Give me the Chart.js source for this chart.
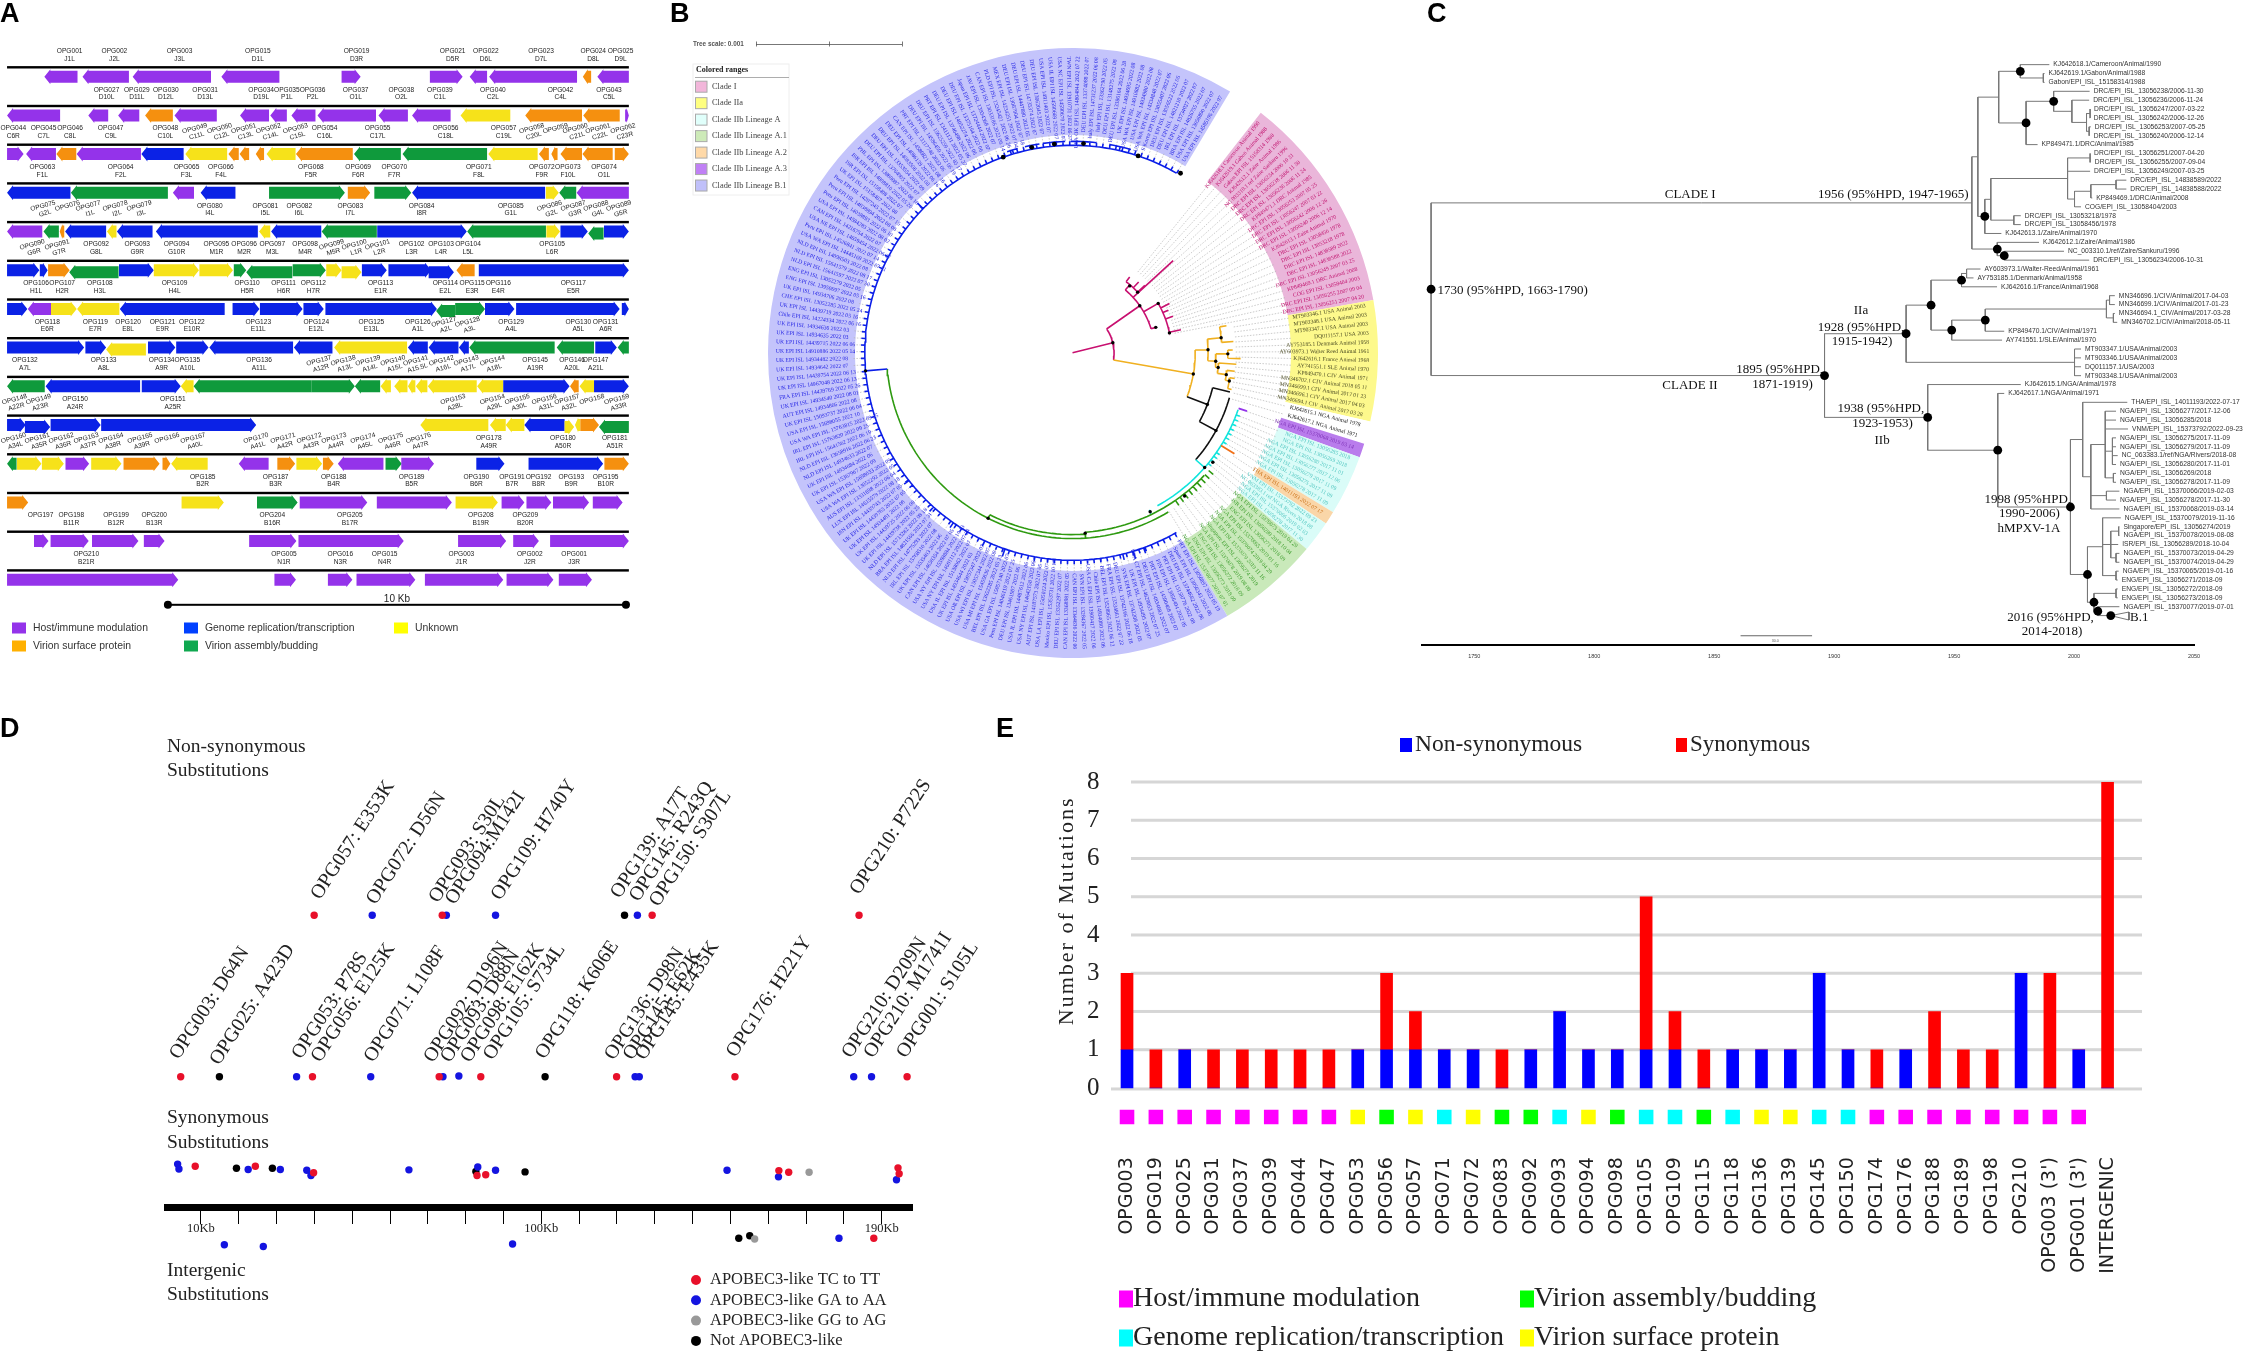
<!DOCTYPE html>
<html>
<head>
<meta charset="utf-8">
<style>
  html, body { margin: 0; background: #fff; overflow: hidden; }
  #page { position: relative; width: 2244px; height: 1354px; }
  canvas { position: absolute; }
</style>
<script src="https://cdn.jsdelivr.net/npm/chart.js@4"></script>
</head>
<body>
<div id="page"></div>
<script>
// ---- Panel A: gene map. Position along a row, 110.5 units = 1 Kb. Gene = [start, end, direction, function, sits lower?]
const geneRows = [
  [[107,187,'L','P'],[199,311,'L','P'],[320,509,'L','P'],[534,674,'L','P'],[824,870,'R','P'],[1037,1116,'R','P'],[1133,1175,'L','P'],[1180,1392,'L','P'],[1406,1426,'L','O'],[1441,1517,'L','P']],
  [[17,145,'L','P'],[213,261,'L','P'],[285,336,'L','P'],[350,417,'L','O'],[421,523,'L','P'],[579,649,'L','P'],[652,692,'L','P'],[703,761,'L','P'],[766,907,'L','P'],[913,984,'L','P'],[994,1087,'L','P'],[1111,1231,'L','Y'],[1267,1404,'L','O'],[1407,1495,'L','O'],[1508,1517,'R','P']],
  [[17,57,'R','P'],[63,135,'L','P'],[136,184,'L','O'],[185,340,'L','P'],[341,443,'L','B'],[447,548,'L','Y'],[551,576,'L','O'],[578,601,'L','O'],[617,637,'L','O'],[643,713,'L','Y'],[714,851,'L','O'],[854,967,'L','G'],[971,1175,'L','G'],[1178,1297,'L','Y'],[1300,1324,'L','O'],[1330,1345,'L','O'],[1352,1404,'L','O'],[1405,1478,'L','O'],[1483,1517,'R','O']],
  [[17,170,'L','B'],[171,405,'L','G'],[417,468,'L','P'],[484,568,'L','B'],[649,832,'R','G'],[839,893,'R','O'],[903,992,'R','G'],[994,1315,'L','B'],[1317,1348,'R','Y'],[1349,1390,'L','G'],[1391,1517,'L','P']],
  [[17,102,'L','P'],[105,142,'L','G'],[144,155,'L','O'],[157,256,'L','B'],[258,281,'L','Y'],[282,368,'L','B'],[376,622,'L','B'],[625,652,'L','Y'],[654,775,'L','B'],[776,909,'L','G'],[910,1126,'R','B'],[1127,1317,'L','G'],[1318,1351,'R','Y'],[1352,1418,'R','B'],[1419,1456,'L','G',1],[1457,1517,'R','B']],
  [[17,95,'R','B'],[96,115,'R','B'],[116,168,'R','O'],[167,286,'L','G',1],[287,371,'R','B'],[371,480,'R','Y'],[481,562,'R','Y'],[564,594,'R','G'],[594,705,'L','G',1],[706,786,'R','G'],[787,824,'R','Y'],[824,872,'R','Y',1],[873,933,'R','B'],[937,1040,'R','B'],[1034,1095,'R','B',1],[1101,1145,'L','O'],[1155,1517,'R','B']],
  [[17,66,'R','B'],[67,123,'L','P'],[123,185,'R','Y'],[186,288,'L','Y'],[289,542,'L','B'],[561,626,'R','B'],[627,730,'R','B'],[732,781,'R','B'],[785,1054,'R','B'],[1052,1098,'L','G',1],[1098,1170,'R','G'],[1170,1241,'R','B'],[1245,1495,'R','B'],[1500,1517,'R','B']],
  [[17,203,'R','B'],[206,256,'R','B'],[256,352,'L','Y',1],[357,423,'R','B'],[425,503,'R','B'],[505,707,'L','B'],[709,802,'L','B'],[806,982,'L','Y'],[984,1032,'L','B'],[1034,1106,'L','B'],[1107,1131,'L','B'],[1132,1338,'L','G'],[1343,1433,'L','G'],[1436,1488,'R','B'],[1490,1517,'L','G']],
  [[17,108,'L','G'],[110,338,'L','B'],[342,436,'R','B'],[436,467,'L','Y'],[467,752,'L','G'],[752,856,'R','G'],[856,917,'L','G'],[918,943,'L','Y'],[951,983,'L','Y'],[984,1002,'L','Y'],[1003,1031,'L','Y'],[1032,1150,'L','Y'],[1151,1214,'L','Y'],[1214,1374,'R','B'],[1375,1396,'L','O'],[1398,1433,'L','Y'],[1433,1517,'R','B']],
  [[17,62,'R','B'],[60,121,'R','B',1],[122,243,'R','B'],[244,618,'R','B'],[1014,1178,'L','Y'],[1182,1220,'L','Y'],[1220,1265,'L','Y'],[1265,1362,'L','B'],[1362,1385,'R','Y',1],[1387,1400,'L','Y'],[1400,1445,'R','O'],[1445,1517,'L','G',1]],
  [[17,40,'L','G'],[41,100,'R','Y'],[101,154,'R','Y'],[158,215,'R','P'],[220,293,'R','Y'],[298,385,'R','O'],[392,411,'R','O'],[413,501,'L','Y'],[576,648,'L','P'],[669,712,'R','O'],[715,777,'R','Y'],[779,805,'R','O'],[815,925,'L','P'],[930,969,'R','G'],[968,1047,'R','P'],[1149,1217,'R','B'],[1275,1455,'R','B'],[1458,1517,'R','O']],
  [[17,68,'R','O'],[438,540,'R','Y'],[620,718,'R','G'],[723,886,'R','P'],[909,1090,'R','P'],[1099,1201,'R','Y'],[1210,1265,'R','P'],[1270,1330,'R','P'],[1334,1421,'R','P'],[1430,1502,'R','P']],
  [[82,117,'R','P'],[122,214,'R','P'],[222,334,'R','P'],[347,397,'R','P'],[601,715,'R','P'],[720,974,'R','P'],[1105,1221,'R','P'],[1238,1300,'R','P'],[1327,1517,'R','P']],
  [[17,430,'R','P'],[662,714,'R','P'],[791,850,'R','P'],[860,1002,'R','P'],[1025,1214,'R','P'],[1222,1335,'R','P'],[1348,1428,'R','P']]
];
// gene label = [position, OPG name, VACV name, tilted?]
const geneLabelRows = [
  [[168,'OPG001','J1L'],[276,'OPG002','J2L'],[433,'OPG003','J3L'],[622,'OPG015','D1L'],[860,'OPG019','D3R'],[1092,'OPG021','D5R'],[1172,'OPG022','D6L'],[1305,'OPG023','D7L'],[1431,'OPG024','D8L'],[1497,'OPG025','D9L']],
  [[257,'OPG027','D10L'],[330,'OPG029','D11L'],[400,'OPG030','D12L'],[495,'OPG031','D13L'],[630,'OPG034','D19L'],[692,'OPG035','P1L'],[754,'OPG036','P2L'],[858,'OPG037','O1L'],[968,'OPG038','O2L'],[1061,'OPG039','C1L'],[1189,'OPG040','C2L'],[1352,'OPG042','C4L'],[1469,'OPG043','C5L']],
  [[32,'OPG044','C6R'],[105,'OPG045','C7L'],[169,'OPG046','C8L'],[267,'OPG047','C9L'],[399,'OPG048','C10L'],[472,'OPG049','C11L',1],[532,'OPG050','C12L',1],[590,'OPG051','C13L',1],[650,'OPG052','C14L',1],[715,'OPG053','C15L',1],[783,'OPG054','C16L'],[911,'OPG055','C17L'],[1075,'OPG056','C18L'],[1215,'OPG057','C19L'],[1285,'OPG058','C20L',1],[1342,'OPG059','',1],[1390,'OPG060','C21L',1],[1445,'OPG061','C22L',1],[1505,'OPG062','C23R',1]],
  [[102,'OPG063','F1L'],[291,'OPG064','F2L'],[450,'OPG065','F3L'],[533,'OPG066','F4L'],[750,'OPG068','F5R'],[864,'OPG069','F6R'],[951,'OPG070','F7R'],[1155,'OPG071','F8L'],[1307,'OPG072','F9R'],[1370,'OPG073','F10L'],[1457,'OPG074','O1L']],
  [[106,'OPG075','G2L',1],[165,'OPG076','',1],[215,'OPG077','I1L',1],[280,'OPG078','I2L',1],[338,'OPG079','I3L',1],[506,'OPG080','I4L'],[640,'OPG081','I5L'],[722,'OPG082','I6L'],[845,'OPG083','I7L'],[1017,'OPG084','I8R'],[1232,'OPG085','G1L'],[1328,'OPG086','G2L',1],[1385,'OPG087','G3R',1],[1440,'OPG088','G4L',1],[1495,'OPG089','G5R',1]],
  [[80,'OPG090','G6R',1],[140,'OPG091','G7R',1],[232,'OPG092','G8L'],[331,'OPG093','G9R'],[426,'OPG094','G10R'],[522,'OPG095','M1R'],[589,'OPG096','M2R'],[657,'OPG097','M3L'],[736,'OPG098','M4R'],[802,'OPG099','M5R',1],[857,'OPG100','L1R',1],[913,'OPG101','L2R',1],[993,'OPG102','L3R'],[1064,'OPG103','L4R'],[1129,'OPG104','L5L'],[1332,'OPG105','L6R']],
  [[87,'OPG106','H1L'],[150,'OPG107','H2R'],[241,'OPG108','H3L'],[421,'OPG109','H4L'],[596,'OPG110','H5R'],[684,'OPG111','H6R'],[756,'OPG112','H7R'],[918,'OPG113','E1R'],[1074,'OPG114','E2L'],[1139,'OPG115','E3R'],[1202,'OPG116','E4R'],[1383,'OPG117','E5R']],
  [[114,'OPG118','E6R'],[230,'OPG119','E7R'],[309,'OPG120','E8L'],[392,'OPG121','E9R'],[463,'OPG122','E10R'],[623,'OPG123','E11L'],[763,'OPG124','E12L'],[896,'OPG125','E13L'],[1008,'OPG126','A1L'],[1073,'OPG127','A2L',1],[1130,'OPG128','A3L',1],[1233,'OPG129','A4L'],[1395,'OPG130','A5L'],[1461,'OPG131','A6R']],
  [[60,'OPG132','A7L'],[250,'OPG133','A8L'],[390,'OPG134','A9R'],[452,'OPG135','A10L'],[625,'OPG136','A11L'],[772,'OPG137','A12R',1],[830,'OPG138','A13L',1],[890,'OPG139','A14L',1],[950,'OPG140','A15L',1],[1005,'OPG141','A15.5L',1],[1067,'OPG142','A16L',1],[1127,'OPG143','A17L',1],[1190,'OPG144','A18L',1],[1291,'OPG145','A19R'],[1380,'OPG146','A20L'],[1437,'OPG147','A21L']],
  [[37,'OPG148','A22R',1],[95,'OPG149','A23R',1],[181,'OPG150','A24R'],[417,'OPG151','A25R'],[1095,'OPG153','A28L',1],[1190,'OPG154','A29L',1],[1250,'OPG155','A30L',1],[1315,'OPG156','A31L',1],[1370,'OPG157','A32L',1],[1430,'OPG158','',1],[1490,'OPG159','A33R',1]],
  [[35,'OPG160','A34L',1],[92,'OPG161','A35R',1],[150,'OPG162','A36R',1],[210,'OPG163','A37R',1],[270,'OPG164','A38R',1],[340,'OPG165','A39R',1],[405,'OPG166','',1],[468,'OPG167','A40L',1],[620,'OPG170','A41L',1],[685,'OPG171','A42R',1],[748,'OPG172','A43R',1],[808,'OPG173','A44R',1],[878,'OPG174','A45L',1],[945,'OPG175','A46R',1],[1012,'OPG176','A47R',1],[1179,'OPG178','A49R'],[1358,'OPG180','A50R'],[1483,'OPG181','A51R']],
  [[489,'OPG185','B2R'],[665,'OPG187','B3R'],[805,'OPG188','B4R'],[993,'OPG189','B5R'],[1149,'OPG190','B6R'],[1235,'OPG191','B7R'],[1299,'OPG192','B8R'],[1378,'OPG193','B9R'],[1461,'OPG195','B10R']],
  [[98,'OPG197',''],[172,'OPG198','B11R'],[280,'OPG199','B12R'],[372,'OPG200','B13R'],[657,'OPG204','B16R'],[844,'OPG205','B17R'],[1160,'OPG208','B19R'],[1267,'OPG209','B20R']],
  [[208,'OPG210','B21R'],[685,'OPG005','N1R'],[821,'OPG016','N3R'],[928,'OPG015','N4R'],[1113,'OPG003','J1R'],[1278,'OPG002','J2R'],[1385,'OPG001','J3R']]
];
const rowSpan = [17, 1517];
const scaleBarSpan = [405, 1510];
const geneLegend = [['Host/immune modulation','P'],['Genome replication/transcription','B'],['Unknown','Y'],['Virion surface protein','O'],['Virion assembly/budding','G']];

// ---- Panel B: circular tree. Ring sectors in degrees, clockwise, starting at 31 degrees from the top
const sectorNames = ['gap','Clade I','Clade IIa','gap2','Clade IIb Lineage A.3','Clade IIb Lineage A','Clade IIb Lineage A.2','Clade IIb Lineage A (2)','Clade IIb Lineage A.1','Clade IIb Lineage B.1'];
const sectorSpans = [7, 42, 23, 4.3, 2.7, 11.5, 2.5, 6, 19.6, 241.4];
const cladeILabels = ['KJ642618.1 Cameroon Animal 1990','KJ642619.1 Gabon Animal 1988','Gabon EPI ISL 15158314 1988','KJ642612.1 Zaire Animal 1986','NC 003310.1 ref Zaire Sankuru 1996','DRC EPI ISL 13056234 2006 10 31','DRC EPI ISL 13056238 2006 11 30','DRC EPI ISL 13056236 2006 11 24','KP849471.1 DRC Animal 1985','DRC EPI ISL 13056253 2007 05 25','DRC EPI ISL 13056247 2007 03 22','DRC EPI ISL 13056242 2006 12 26','DRC EPI ISL 13056240 2006 12 14','KJ642613.1 Zaire Animal 1970','DRC EPI ISL 13058456 1978','DRC EPI ISL 13053218 1978','DRC EPI ISL 14838589 2022','DRC EPI ISL 14838588 2022','DRC EPI ISL 13056249 2007 03 25','KP849469.1 DRC Animal 2008','COG EPI ISL 13058404 2003','DRC EPI ISL 13056255 2007 09 04','DRC EPI ISL 13056251 2007 04 20'];
const cladeIIaLabels = ['MT903346.1 USA Animal 2003','MT903348.1 USA Animal 2003','MT903347.1 USA Animal 2003','DQ011157.1 USA 2003','AY753185.1 Denmark Animal 1958','AY603973.1 Walter Reed Animal 1961','KJ642616.1 France Animal 1968','AY741551.1 SLE Animal 1970','KP849470.1 CIV Animal 1971','MN346702.1 CIV Animal 2018 05 11','MN346699.1 CIV Animal 2017 01 23','MN346696.1 CIV Animal 2017 04 03','MN346694.1 CIV Animal 2017 03 28'];
const nigeriaLabels = ['KJ642615.1 NGA Animal 1978','KJ642617.1 NGA Animal 1971'];
const lineageA3Labels = ['NGA EPI ISL 15370068 2019 03 14'];
const lineageALabels = ['NGA EPI ISL 13056285 2018','NGA EPI ISL 13056269 2018','NGA EPI ISL 13056280 2017 11 01','NGA EPI ISL 13056277 2017 12 06','NGA EPI ISL 13056279 2017 11 09','NGA EPI ISL 13056275 2017 11 09','NGA EPI ISL 13056278 2017 11 09'];
const lineageA2Labels = ['THA EPI ISL 14011193 2022 07 17'];
const lineageA2ndLabels = ['VNM EPI ISL 15373792 2022 09 23','NC 063383.1 ref NGA Rivers 2018 08','NGA EPI ISL 15370066 2019 02 03','NGA EPI ISL 13056278 2017 11 30'];
const lineageA1Labels = ['NGA EPI ISL 15370073 2019 04 29','ISR EPI ISL 13056289 2018 10 04','ENG EPI ISL 13056271 2018 09','NGA EPI ISL 15370065 2019 01 16','NGA EPI ISL 15370074 2019 04 29','NGA EPI ISL 15370079 2019 11 16','Singapore EPI ISL 13056274 2019','NGA EPI ISL 15370078 2019 08 08','ENG EPI ISL 13056272 2018 09','ENG EPI ISL 13056273 2018 09','NGA EPI ISL 15370077 2019 07 01'];
const lineageB1Labels = ['PRT EPI ISL 13056897 2022 05 19','Spain EPI ISL 13056343 2022 06','DEU EPI ISL 13744662 2022 06','PRT EPI ISL 15158776 2022 08','FIN EPI ISL 13056404 2022 05','PRT EPI ISL 14590468 2022 07','DEU EPI ISL 14834683 2022 07','USA CT EPI ISL 14629053 2022 07 25','UK EPI ISL 14934495 2022 07','SVK EPI ISL 13742208 2022 05','DEU EPI ISL 13742166 2022 06 18','FRA EPI ISL 13534861 2022 07 22','BEL EPI ISL 13528965 2022 06 12','Chile EPI ISL 14934080 2022 06','USA CA EPI ISL 13900417 2022 06','SVN EPI ISL 13284367 2022 05','CAN EPI ISL 13344636 2022 06','CAN EPI ISL 13368981 2022 05','DEU EPI ISL 13352297 2022 07','Mexico EPI ISL 15353731 2022 10 13','USA LA EPI ISL 15050124 2022 07','AUT EPI ISL 14187573 2022 07 05','USA NY EPI ISL 14642158 2022 06','USA IL EPI ISL 14487612 2022 06','DEU EPI ISL 13461907 2022 06','Peru EPI ISL 14046119 2022 07 25','USA GA EPI ISL 15057140 2022 07','BEL EPI ISL 13652285 2022 05 23','USA MI EPI ISL 15455836 2022 09','USA WI EPI ISL 15057344 2022 07','USA OR EPI ISL 15057347 2022 07','UK EPI ISL 14934644 2022 03','USA IL EPI ISL 15138062 2022 07','USA NY EPI ISL 14601112 2022 07 24','USA NY EPI ISL 15598884 2022 10 13','CAN EPI ISL 14650354 2022 07 05','UK EPI ISL 15535403 2022 06','IRL EPI ISL 15768510 2022 08','NLD EPI ISL 14775293 2022 07','BRA EPI ISL 14821566 2022 07 31','NLD EPI ISL 15713282 2022 08 18','UK EPI ISL 14439738 2022 05 25','UK EPI ISL 14439725 2022 06 08','UK EPI ISL 14934481 2022 08','UK EPI ISL 14439763 2022 07 05','ISN EPI ISL 14439743 2022 07 05','LUX EPI ISL 14615579 2022 08 18','AUS EPI ISL 13331698 2022 06 04','USA WA EPI ISL 13052292 2022 05','USA WA EPI ISL 15698033 2022 09','UK EPI ISL 15367967 2022 09','UK EPI ISL 14934684 2022 06','NLD EPI ISL 14934633 2022 07','NLD EPI ISL 13658916 2022 06 23','IRL EPI ISL 15641562 2022 06 19','IRL EPI ISL 15763820 2022 09 25','USA WA EPI ISL 15763815 2022 09 25','USA EPI ISL 15698055 2022 10','UK EPI ISL 15093737 2022 06 04','AUT EPI ISL 14934866 2022 08','UK EPI ISL 14934540 2022 08 01','FRA EPI ISL 14439769 2022 05 26','UK EPI ISL 14967048 2022 06 13','UK EPI ISL 14439754 2022 06 13','UK EPI ISL 14934642 2022 07','UK EPI ISL 14934482 2022 08','UK EPI ISL 14910886 2022 05 14','UK EPI ISL 14439715 2022 06 06','UK EPI ISL 14934635 2022 03','UK EPI ISL 14934636 2022 03','Chile EPI ISL 14224334 2022 06 16','UK EPI ISL 14439719 2022 05 16','CHE EPI ISL 13052285 2022 05 24','UK EPI ISL 14934706 2022 08','ENG EPI ISL 13950697 2022 05 16','ENG EPI ISL 13052279 2022 05','NLD EPI ISL 15641597 2022 07 30','NLD EPI ISL 15641579 2022 08 17','NLD EPI ISL 14098503 2022 08','USA WA EPI ISL 14445169 2022 07 31','Peru EPI ISL 14526841 2022 07 14','USA NE EPI ISL 14659454 2022 06 27','CAN EPI ISL 14216754 2022 07','USA EPI ISL 14584283 2022 08 02','Peru EPI ISL 14038893 2022 06 10','Peru EPI ISL 14038894 2022 08 08','Peru EPI ISL 14207245 2022 07 15','UK EPI ISL 15158467 2022 08','ISR EPI ISL 15158408 2022 07','ISR EPI ISL 14898810 2022 05 20','PHL EPI ISL 13869087 2022 08 16','DEU EPI ISL 13764905 2022 07','DEU EPI ISL 13353554 2022 09','DEU EPI ISL 14083506 2022 08','DEU EPI ISL 14086139 2022 06 16','CAN EPI ISL 14586821 2022 08 16','PRT EPI ISL 13117748 2022 06','DEU EPI ISL 14586450 2022 06 19','DEU EPI ISL 15625259 2022 05 17','PRT EPI ISL 13411131 2022 05 27','DEU EPI ISL 13746498 2022 06','DEU EPI ISL 14052274 2022 06','DEU EPI ISL 13375164 2022 06','Japan EPI ISL 13724444 2022 07','JAV EPI ISL 13934368 2022 07','CAN EPI ISL 13033186 2022 06 14','PLD EPI ISL 13245421 2022 06 26','MEX EPI ISL 14234251 2022 07 04','DEU EPI ISL 13007904 2022 07 18','DEU EPI ISL 14447880 2022 05','DEU EPI ISL 14735374 2022 07','DEU EPI ISL 13062045 2022 07','USA EPI ISL 14911403 2022 07','USA IL EPI ISL 14590669 2022 07','USA NC EPI ISL 14590670 2022 07','TWN EPI ISL 13910731 2022 06 27','USA OK EPI ISL 14804844 2022 07 22','DEU EPI ISL 13374088 2022 07','Italy EPI ISL 14731237 2022 06 08','Italy EPI ISL 13362790 2022 05','DEU EPI ISL 13148275 2022 08','DEU EPI ISL 13386164 2022 06 28','UK EPI ISL 14934695 2022 08','USA WA EPI ISL 14910882 2022 08','USA EPI ISL 14934980 2022 08','USA WA EPI ISL 14334848 2022 07','S Korea EPI ISL 13055407 2022 06','DEU EPI ISL 13056522 2022 06','DEU EPI ISL 14821210 2022 07','IRL EPI ISL 13734027 2022 07','BRA EPI ISL 14826755 2022 07','USA EPI ISL 13056890 2022 07','USA EPI ISL 14585106 2022 07'];
// tree pieces: arcs = [radius, fromDeg, toDeg], radials = [deg, fromRadius, toRadius]
const magentaArcs = [[42,55,100],[83,40,73],[90,37,47],[100,60,78]];
const magentaRadials = [[76,0,42],[55,42,83],[47.5,83,138],[40,83,90],[60,83,100],[73,83,88],[37,90,96],[43,90,98],[47,90,100],[63,100,110],[70,100,108],[78,100,112],[66,100,106]];
const orangeArcs = [[124,88.7,111],[137,84.2,93.4],[151,80,86],[145,90.4,95.8],[157,89,92],[148,94,98.1],[157,96.5,100.2],[161,99,103]];
const orangeRadials = [[100,42,124],[88.7,124,137],[84.2,137,151],[80,151,158],[86,151,163],[93.4,137,145],[90.4,145,157],[89,157,162],[92,157,170],[95.8,145,148],[94,148,166],[98.1,148,157],[96.5,157,165],[100.2,157,161],[99,161,166],[103,161,165]];
const blackArcs = [[146,104,118.5],[165,106,131]];
const blackRadials = [[111,124,146],[104,146,164],[118.5,146,165]];
const cyanArcs = [[177,109,151]];
const cyanRadials = [[131,165,177],[154,177,181]];
const greenArcs = [[182,133,176],[188,149,265],[184,176,207]];
const greenRadials = [[207,184,188],[176,182,188]];
const blueArcs = [[210,150,390],[214,342,345],[214,347,351],[214,352,358],[214,359.5,366.5],[214,370,376]];
const blueRadials = [[265,188,210],[343.5,210,214],[349,210,214],[355,210,214],[3,210,214],[13,210,214],[314,210,218],[199,210,218],[205,210,216],[215,210,216],[222,210,216],[232,210,216],[163,210,218],[166,210,216],[160,210,216]];
const purpleRadials = [[108.5,177,186]];
const orangeTipRadials = [[122,177,193]];
const treeNodes = [[76,42],[55,83],[40.5,89],[60,100],[47,90],[73,88],[78.4,100],[100,124],[88.7,137],[84.2,151],[93.4,145],[90.4,157],[95.8,148],[98.1,157],[100.2,161],[111,146],[118.5,165],[131,177],[128,180],[154,179],[142,184],[176,183],[207,188],[265,210]];
const bigTreeNodes = [[340.5,210],[348.8,212],[355,212],[3,212],[18.4,210],[31,212]];
const rangeLegend = ['Clade I','Clade IIa','Clade IIb Lineage A','Clade IIb Lineage A.1','Clade IIb Lineage A.2','Clade IIb Lineage A.3','Clade IIb Lineage B.1'];

// ---- Panel C: dated tree. Tips in drawing order, x is the year
const tipLabels = ['KJ642618.1/Cameroon/Animal/1990','KJ642619.1/Gabon/Animal/1988','Gabon/EPI_ISL_15158314/1988','DRC/EPI_ISL_13056238/2006-11-30','DRC/EPI_ISL_13056236/2006-11-24','DRC/EPI_ISL_13056247/2007-03-22','DRC/EPI_ISL_13056242/2006-12-26','DRC/EPI_ISL_13056253/2007-05-25','DRC/EPI_ISL_13056240/2006-12-14','KP849471.1/DRC/Animal/1985','DRC/EPI_ISL_13056251/2007-04-20','DRC/EPI_ISL_13056255/2007-09-04','DRC/EPI_ISL_13056249/2007-03-25','DRC/EPI_ISL_14838589/2022','DRC/EPI_ISL_14838588/2022','KP849469.1/DRC/Animal/2008','COG/EPI_ISL_13058404/2003','DRC/EPI_ISL_13053218/1978','DRC/EPI_ISL_13058456/1978','KJ642613.1/Zaire/Animal/1970','KJ642612.1/Zaire/Animal/1986','NC_003310.1/ref/Zaire/Sankuru/1996','DRC/EPI_ISL_13056234/2006-10-31','AY603973.1/Walter-Reed/Animal/1961','AY753185.1/Denmark/Animal/1958','KJ642616.1/France/Animal/1968','MN346696.1/CIV/Animal/2017-04-03','MN346699.1/CIV/Animal/2017-01-23','MN346694.1_CIV/Animal/2017-03-28','MN346702.1/CIV/Animal/2018-05-11','KP849470.1/CIV/Animal/1971','AY741551.1/SLE/Animal/1970','MT903347.1/USA/Animal/2003','MT903346.1/USA/Animal/2003','DQ011157.1/USA/2003','MT903348.1/USA/Animal/2003','KJ642615.1/NGA/Animal/1978','KJ642617.1/NGA/Animal/1971','THA/EPI_ISL_14011193/2022-07-17','NGA/EPI_ISL_13056277/2017-12-06','NGA/EPI_ISL_13056285/2018','VNM/EPI_ISL_15373792/2022-09-23','NGA/EPI_ISL_13056275/2017-11-09','NGA/EPI_ISL_13056279/2017-11-09','NC_063383.1/ref/NGA/Rivers/2018-08','NGA/EPI_ISL_13056280/2017-11-01','NGA/EPI_ISL_13056269/2018','NGA/EPI_ISL_13056278/2017-11-09','NGA/EPI_ISL_15370066/2019-02-03','NGA/EPI_ISL_13056278/2017-11-30','NGA/EPI_ISL_15370068/2019-03-14','NGA/EPI_ISL_15370079/2019-11-16','Singapore/EPI_ISL_13056274/2019','NGA/EPI_ISL_15370078/2019-08-08','ISR/EPI_ISL_13056289/2018-10-04','NGA/EPI_ISL_15370073/2019-04-29','NGA/EPI_ISL_15370074/2019-04-29','NGA/EPI_ISL_15370065/2019-01-16','ENG/EPI_ISL_13056271/2018-09','ENG/EPI_ISL_13056272/2018-09','ENG/EPI_ISL_13056273/2018-09','NGA/EPI_ISL_15370077/2019-07-01'];
const tipYears = [1989.7,1987.7,1987.7,2006.5,2006.3,2006.7,2006.5,2007,2006.5,1984.8,2006.7,2007,2006.7,2021.8,2021.8,2007.6,2002.9,1977.8,1977.8,1969.7,1985.4,1995.8,2006.3,1961,1958.1,1967.9,2017,2017,2017,2018,1970.9,1970,2002.9,2002.9,2002.9,2002.9,1977.8,1970.9,2022.2,2017.5,2017.5,2022.5,2017.5,2017.5,2018.2,2017.5,2017.5,2017.5,2018.9,2017.5,2018.9,2019.5,2018.9,2018.9,2018.4,2018.9,2018.9,2018.6,2018.2,2018.2,2018.2,2018.9,2015.3];
const timeTicks = [1750,1800,1850,1900,1950,2000,2050];
// text on the tree = [text, year, row]
const treeNotes = [['CLADE I',1840,14.67],['1956 (95%HPD, 1947-1965)',1924.7,14.57],['1730 (95%HPD, 1663-1790)',1766,25.4],['IIa',1911.2,27.7],['1928 (95%HPD,',1911.2,29.6],['1915-1942)',1911.6,31.2],['1895 (95%HPD,',1877.3,34.3],['1871-1919)',1878.5,36],['CLADE II',1839.9,36.1],['1938 (95%HPD,',1919.5,38.75],['1923-1953)',1920.2,40.4],['IIb',1920,42.3],['1998 (95%HPD,',1980.7,48.9],['1990-2006)',1981.4,50.55],['hMPXV-1A',1981.2,52.2],['2016 (95%HPD,',1990.2,62.2],['2014-2018)',1990.8,63.8],['B.1',2027.2,62.2]];
// n = plain internal node, d = node with a black dot: (year, ...children). A child that is a number is a tip row.
const n = (year, ...kids) => ({ year, kids, dot: false });
const d = (year, ...kids) => ({ year, kids, dot: true });
const datedTree = d(1732,
  n(1957.4,
    n(1959.9,
      n(1968.6,
        d(1977.6, 0, n(1987.2, 1, 2)),
        d(1980, d(1991.5, 3, n(1999.1, 4, n(2005.2, n(2006.7, 5, 6), n(2006.3, 7, 8)))), 9)),
      d(1962.8,
        n(1965.3,
          n(1997.3, n(2006.7, 10, 11), 12, n(2000.2, n(2007, n(2017.5, 13, 14), 15), 16)),
          n(1974.9, 17, 18)),
        19)),
    d(1968, 20, d(1970.9, 21, 22))),
  d(1896,
    d(1930,
      d(1940.4,
        d(1953.1, n(1955.2, 23, 24), 25),
        d(1949, d(1963, n(2013.5, n(2014.8, 26, 27), n(2016.4, 28, 29)), 30), 31)),
      n(2000.2, 32, 33, 34, 35)),
    d(1939, 36,
      d(1968.2, 37,
        d(1998.5,
          n(2003.6, 38,
            n(2007,
              n(2013, 39, 40, 41, n(2016, 42, 43, 44, 45), n(2016.4, 46, 47)),
              n(2013.5, 48, 49),
              50)),
          d(2005.6,
            n(2011.9, 51, n(2015.3, n(2018.6, 52, 53), 54, n(2017.5, 55, 56)), n(2017.5, 57, 58)),
            d(2008.3, n(2017.5, 59, 60), d(2009.9, 61, 62))))))));

// ---- Panel D: substitutions along the genome, [Kb, lane height above the genome bar]
const tcToTt = [[39.95,2.957],[73.8,2.957],[129.3,2.957],[184,2.957],[4.66,1.322],[39.5,1.322],[73,1.322],[84,1.322],[119.9,1.322],[151.2,1.322],[196.7,1.322],[8.5,.417],[24.4,.417],[39.8,.351],[83,.322],[85.3,.33],[162.8,.372],[165.4,.355],[194.3,.4],[194.6,.34],[187.9,-.313]];
const gaToAa = [[55.3,2.957],[74.9,2.957],[87.9,2.957],[125.4,2.957],[35.3,1.322],[54.9,1.322],[74,1.322],[78.2,1.33],[124.8,1.322],[125.9,1.322],[182.6,1.322],[187.3,1.322],[3.85,.438],[4.2,.388],[22.5,.384],[31,.384],[38,.376],[39.1,.322],[65,.38],[83.2,.409],[87.9,.376],[149.1,.376],[162.7,.309],[193.9,.28],[16.2,-.379],[26.5,-.396],[92.4,-.371],[178.7,-.313]];
const ggToAg = [[170.8,.355],[156.4,-.321]];
const notApobec = [[122,2.957],[14.9,1.322],[101,1.322],[19.4,.396],[28.9,.396],[82.7,.363],[95.7,.359],[152.2,-.313],[155.1,-.288]];
// rotated label = [Kb, lane, text]
const upperLabels = [[40.3,3.136,'OPG057: E353K'],[55,3.086,'OPG072: D56N'],[71.5,3.102,'OPG093: S30L'],[75.9,3.086,'OPG094:M142I'],[88,3.127,'OPG109: H740Y'],[119.6,3.149,'OPG139: A17T'],[124.5,3.115,'OPG145: R243Q'],[129.8,3.065,'OPG150: S307L'],[182.8,3.186,'OPG210: P722S']];
const lowerLabels = [[3,1.518,'OPG003: D64N'],[13.6,1.46,'OPG025: A423D'],[35.3,1.522,'OPG053: P78S'],[40.4,1.489,'OPG056: E125K'],[54.4,1.489,'OPG071: L108F'],[70.2,1.485,'OPG092: D196N'],[74.6,1.485,'OPG093: D88N'],[79.9,1.485,'OPG098: E162K'],[85.9,1.51,'OPG105: S734L'],[99.7,1.522,'OPG118: K606E'],[118,1.51,'OPG136: D98N'],[122.9,1.51,'OPG145: E62K'],[126.1,1.51,'OPG145: E435K'],[150.2,1.539,'OPG176: H221Y'],[180.7,1.53,'OPG210: D209N'],[186.5,1.53,'OPG210: M1741I'],[195.2,1.53,'OPG001: S105L']];
const laneTitles = [['Non-synonymous',4.666],['Substitutions',4.42],['Synonymous',.906],['Substitutions',.656],['Intergenic',-.638],['Substitutions',-.888]];
const kbTicks = [10,20,30,40,50,60,70,80,90,100,110,120,130,140,150,160,170,180,190];
const labelledKb = [10, 100, 190];
const apobecLegend = ['APOBEC3-like TC to TT','APOBEC3-like GA to AA','APOBEC3-like GG to AG','Not APOBEC3-like'];

// ---- Panel E: mutations per gene
const mutationGenes = ['OPG003','OPG019','OPG025','OPG031','OPG037','OPG039','OPG044','OPG047','OPG053','OPG056','OPG057','OPG071','OPG072','OPG083','OPG092','OPG093','OPG094','OPG098','OPG105','OPG109','OPG115','OPG118','OPG136','OPG139','OPG145','OPG150','OPG174','OPG176','OPG188','OPG189','OPG198','OPG210',"OPG003 (3')","OPG001 (3')",'INTERGENIC'];
const nonSynonymous = [1,0,1,0,0,0,0,0,1,1,1,1,1,0,1,2,1,1,1,1,0,1,1,1,3,1,0,1,0,0,0,3,0,1,0];
const synonymous =    [2,1,0,1,1,1,1,1,0,2,1,0,0,1,0,0,0,0,4,1,1,0,0,0,0,0,1,0,2,1,1,0,3,0,8];
const geneFunctions = ['host','host','host','host','host','host','host','host','surface','assembly','surface','replication','surface','assembly','assembly','replication','surface','assembly','replication','replication','assembly','replication','surface','surface','replication','replication','host','host','host','host','host','host','host','host'];
const functionLegend = [['Host/immune modulation','host'],['Virion assembly/budding','assembly'],['Genome replication/transcription','replication'],['Virion surface protein','surface']];

// ---- styles
const geneColors = { P: '#9433ea', B: '#0b22e6', Y: '#f6e21a', O: '#f5900f', G: '#0f9a3c' };
const functionColors = { host: '#ff00ff', surface: '#ffff00', assembly: '#00ff00', replication: '#00ffff' };
const sectorColors = ['#ffffff','#eab6da','#fdf98c','#ffffff','#b97cec','#dafcf8','#fad6a8','#dafcf8','#c9e9ba','#c4c4fb'];
const rangeSwatches = ['#f2b6da','#ffff80','#e0fffb','#cdeab8','#ffd9a8','#c080f5','#c0c0fa'];
const SERIF = '"Liberation Serif"';
const SANS = '"Liberation Sans"';

Chart.defaults.animation = false;
Chart.defaults.responsive = false;
Chart.defaults.plugins.legend.display = false;
Chart.defaults.plugins.tooltip.enabled = false;

function newCanvas(left, top, width, height) {
  const c = document.createElement('canvas');
  c.width = width;
  c.height = height;
  c.style.left = left + 'px';
  c.style.top = top + 'px';
  document.getElementById('page').appendChild(c);
  return c;
}

function drawText(ctx, str, x, y, font, color, align, rot) {
  ctx.save();
  ctx.translate(x, y);
  if (rot) ctx.rotate(rot * Math.PI / 180);
  ctx.font = font;
  ctx.fillStyle = color;
  ctx.textAlign = align || 'left';
  ctx.textBaseline = 'middle';
  ctx.fillText(str, 0, 0);
  ctx.restore();
}

function panelLetter(ctx, letter, x, y) {
  drawText(ctx, letter, x, y, 'bold 27px ' + SANS, '#000');
}

// ---- Panel A
class GeneArrow extends Chart.BarElement {
  static id = 'geneArrow';
  draw(ctx) {
    const props = this.getProps(['x', 'y', 'base']);
    const left = Math.min(props.x, props.base), right = Math.max(props.x, props.base);
    const raw = this.$context.raw;
    const y = props.y + (raw.lower ? 2 : 0);
    const head = Math.min(6, (right - left) * 0.6);
    const body = 6, wing = 7.5;
    ctx.save();
    ctx.fillStyle = this.options.backgroundColor;
    ctx.beginPath();
    if (raw.dir === 'R') {
      ctx.moveTo(left, y - body);
      ctx.lineTo(right - head, y - body);
      ctx.lineTo(right - head, y - wing);
      ctx.lineTo(right, y);
      ctx.lineTo(right - head, y + wing);
      ctx.lineTo(right - head, y + body);
      ctx.lineTo(left, y + body);
    } else {
      ctx.moveTo(right, y - body);
      ctx.lineTo(left + head, y - body);
      ctx.lineTo(left + head, y - wing);
      ctx.lineTo(left, y);
      ctx.lineTo(left + head, y + wing);
      ctx.lineTo(left + head, y + body);
      ctx.lineTo(right, y + body);
    }
    ctx.closePath();
    ctx.fill();
    ctx.restore();
  }
}
class GeneBarController extends Chart.BarController {
  static id = 'geneBar';
  static defaults = { dataElementType: 'geneArrow' };
  static overrides = Chart.BarController.overrides;
}
Chart.register(GeneArrow, GeneBarController);

const rowNames = geneRows.map((_, i) => 'row' + i);
const genePoints = [];
geneRows.forEach((row, i) => row.forEach(g => genePoints.push({ x: [g[0], g[1]], y: rowNames[i], dir: g[2], fn: g[3], lower: g[4] })));

new Chart(newCanvas(0, 0, 650, 670), {
  type: 'geneBar',
  data: {
    labels: rowNames,
    datasets: [{
      data: genePoints,
      backgroundColor: genePoints.map(g => geneColors[g.fn]),
      barThickness: 15,
      grouped: false,
    }],
  },
  options: {
    indexAxis: 'y',
    layout: { padding: { top: 57.35, bottom: 70.85 } },
    scales: {
      x: { type: 'linear', min: 0, max: 1568, display: false },
      y: { type: 'category', display: false },
    },
  },
  plugins: [{
    id: 'geneText',
    afterDraw(chart) {
      const { ctx, scales: { x, y } } = chart;
      panelLetter(ctx, 'A', 0, 15);
      const small = '6.6px ' + SANS;
      rowNames.forEach((name, i) => {
        const line = y.getPixelForValue(i) - 9.4;
        ctx.fillStyle = '#000';
        ctx.fillRect(x.getPixelForValue(rowSpan[0]), line - 1.2, x.getPixelForValue(rowSpan[1]) - x.getPixelForValue(rowSpan[0]), 2.4);
        geneLabelRows[i].forEach(([pos, opg, vacv, tilted]) => {
          const px = x.getPixelForValue(pos);
          if (tilted) {
            ctx.save();
            ctx.translate(px, line - 12.5);
            ctx.rotate(-15 * Math.PI / 180);
            drawText(ctx, opg, 0, -3.8, small, '#222', 'center');
            drawText(ctx, vacv, 0, 3.8, small, '#222', 'center');
            ctx.restore();
          } else {
            drawText(ctx, opg, px, line - 16.3, small, '#222', 'center');
            drawText(ctx, vacv, px, line - 8.6, small, '#222', 'center');
          }
        });
      });
      // 10 Kb scale bar
      const barY = y.getPixelForValue(13) + 25;
      const b0 = x.getPixelForValue(scaleBarSpan[0]), b1 = x.getPixelForValue(scaleBarSpan[1]);
      ctx.fillStyle = '#000';
      ctx.fillRect(b0, barY - 1, b1 - b0, 2);
      [b0, b1].forEach(p => { ctx.beginPath(); ctx.arc(p, barY, 4, 0, Math.PI * 2); ctx.fill(); });
      drawText(ctx, '10 Kb', (b0 + b1) / 2, barY - 6, '10px ' + SANS, '#222', 'center');
      // legend
      const spots = [[12, 628], [184, 628], [394, 628], [12, 646], [184, 646]];
      geneLegend.forEach(([label, fn], i) => {
        const [lx, ly] = spots[i];
        ctx.fillStyle = fn === 'Y' ? '#ffff00' : fn === 'O' ? '#ffb000' : fn === 'G' ? '#10a850' : fn === 'B' ? '#0040ff' : geneColors[fn];
        ctx.fillRect(lx, ly - 5.5, 14, 11);
        drawText(ctx, label, lx + 21, ly, '10.4px ' + SANS, '#333');
      });
    },
  }],
});

// ---- Panel B
const ringCentre = { left: 1073, top: 353 };
new Chart(newCanvas(ringCentre.left - 305, ringCentre.top - 305, 610, 610), {
  type: 'doughnut',
  data: {
    labels: sectorNames,
    datasets: [{ data: sectorSpans, backgroundColor: sectorColors, borderWidth: 0 }],
  },
  options: { rotation: 31, cutout: 218, radius: 305, layout: { autoPadding: false } },
});

const polar = (deg, r) => ({ x: r * Math.sin(deg * Math.PI / 180), y: r * Math.cos(deg * Math.PI / 180) });
const GAP = { x: NaN, y: NaN };
function arcPoints(arcs) {
  const pts = [];
  arcs.forEach(([r, a1, a2]) => {
    for (let a = a1; a < a2; a += 1.5) pts.push(polar(a, r));
    pts.push(polar(a2, r), GAP);
  });
  return pts;
}
function radialPoints(radials) {
  const pts = [];
  radials.forEach(([a, r1, r2]) => pts.push(polar(a, r1), polar(a, r2), GAP));
  return pts;
}
const treeLine = (points, color, width) => ({ data: points, borderColor: color, borderWidth: width, showLine: true, pointRadius: 0, spanGaps: false });

const labelGroups = [
  { labels: cladeILabels, from: 38, to: 80, color: '#c0106c', tip: 105 },
  { labels: cladeIIaLabels, from: 80, to: 103, color: '#4a4a22', tip: 165 },
  { labels: nigeriaLabels, from: 103, to: 107.3, color: '#111', tip: 168 },
  { labels: lineageA3Labels, from: 107.3, to: 110, color: '#7b2fb5', tip: 186 },
  { labels: lineageALabels, from: 110, to: 121.5, color: '#55c8c2', tip: 181 },
  { labels: lineageA2Labels, from: 121.5, to: 124, color: '#c96d12', tip: 193 },
  { labels: lineageA2ndLabels, from: 124, to: 130, color: '#55c8c2', tip: 181 },
  { labels: lineageA1Labels, from: 130, to: 149.6, color: '#3f9f2f', tip: 188 },
  { labels: lineageB1Labels, from: 149.6, to: 391, color: '#2222e4', tip: 214 },
];
const labelAngle = (g, i) => g.from + (i + 0.5) * (g.to - g.from) / g.labels.length;
const leaderRadials = [], cyanTicks = [], greenTicks = [], blueTicks = [];
labelGroups.forEach(g => g.labels.forEach((_, i) => {
  const a = labelAngle(g, i);
  leaderRadials.push([a, g.tip, 222]);
  if (g.labels === lineageB1Labels) blueTicks.push([a, 210, 214]);
  if (g.labels === lineageA1Labels && a < 146) greenTicks.push([a, 182, 188]);
  if (g.labels === lineageALabels || g.labels === lineageA2ndLabels) cyanTicks.push([a, 177, 181]);
}));

new Chart(newCanvas(660, 0, 740, 670), {
  type: 'scatter',
  data: {
    // Chart.js paints the first dataset last, so the nodes come first and the leaders last
    datasets: [
      { data: bigTreeNodes.map(([a, r]) => polar(a, r)), pointRadius: 2.4, pointBackgroundColor: '#000', pointBorderWidth: 0 },
      { data: treeNodes.map(([a, r]) => polar(a, r)), pointRadius: 1.7, pointBackgroundColor: '#000', pointBorderWidth: 0 },
      treeLine(radialPoints(orangeTipRadials), '#f07018', 1.8),
      treeLine(radialPoints(purpleRadials), '#9433ea', 1.8),
      treeLine(arcPoints(blueArcs).concat(radialPoints(blueRadials), radialPoints(blueTicks)), '#0b1ee8', 1.6),
      treeLine(arcPoints(greenArcs).concat(radialPoints(greenRadials), radialPoints(greenTicks)), '#2e9a10', 1.6),
      treeLine(arcPoints(cyanArcs).concat(radialPoints(cyanRadials), radialPoints(cyanTicks)), '#10e4dc', 1.6),
      treeLine(arcPoints(blackArcs).concat(radialPoints(blackRadials)), '#111', 1.6),
      treeLine(arcPoints(orangeArcs).concat(radialPoints(orangeRadials)), '#f0b020', 1.6),
      treeLine(arcPoints(magentaArcs).concat(radialPoints(magentaRadials)), '#c81070', 1.6),
      { ...treeLine(radialPoints(leaderRadials), '#b4b4b4', 0.7), borderDash: [1.5, 1.5] },
    ],
  },
  options: {
    scales: {
      x: { type: 'linear', min: -413, max: 327, display: false },
      y: { type: 'linear', min: -317, max: 353, display: false },
    },
  },
  plugins: [{
    id: 'ringText',
    afterDraw(chart) {
      const { ctx, scales: { x, y } } = chart;
      panelLetter(ctx, 'B', 10, 15);
      const font = '5.7px ' + SERIF;
      labelGroups.forEach(g => g.labels.forEach((label, i) => {
        const a = labelAngle(g, i) % 360;
        const p = polar(a, 300);
        if (a < 180) drawText(ctx, label, x.getPixelForValue(p.x), y.getPixelForValue(p.y), font, g.color, 'right', a - 90);
        else drawText(ctx, label, x.getPixelForValue(p.x), y.getPixelForValue(p.y), font, g.color, 'left', a - 270);
      }));
      // tree scale
      drawText(ctx, 'Tree scale: 0.001', 33, 44, 'bold 6.4px ' + SANS, '#555');
      ctx.fillStyle = '#555';
      ctx.fillRect(96, 44, 146, 0.8);
      [96, 169, 242].forEach(t => ctx.fillRect(t, 41.5, 0.8, 5));
      // coloured ranges box
      ctx.strokeStyle = '#eeeeee';
      ctx.strokeRect(33, 64, 96, 131);
      drawText(ctx, 'Colored ranges', 36, 70, 'bold 8px ' + SERIF, '#222');
      ctx.fillStyle = '#999';
      ctx.fillRect(35, 77, 94, 0.8);
      rangeLegend.forEach((label, i) => {
        const ly = 86.7 + i * 16.47;
        ctx.fillStyle = rangeSwatches[i];
        ctx.fillRect(35.5, ly - 5.5, 11.5, 11);
        ctx.strokeStyle = '#aaa';
        ctx.strokeRect(35.5, ly - 5.5, 11.5, 11);
        drawText(ctx, label, 52, ly, '8.4px ' + SERIF, '#444');
      });
    },
  }],
});

// ---- Panel C
const treeH = [], treeV = [], treeDots = [];
function layoutTree(node, parentYear) {
  if (typeof node === 'number') {
    treeH.push({ x: parentYear, y: node }, { x: tipYears[node], y: node }, GAP);
    return node;
  }
  const rows = node.kids.map(k => layoutTree(k, node.year));
  const first = rows[0], last = rows[rows.length - 1];
  const row = (first + last) / 2;
  treeV.push({ x: node.year, y: first }, { x: node.year, y: last }, GAP);
  if (parentYear !== null) treeH.push({ x: parentYear, y: row }, { x: node.year, y: row }, GAP);
  if (node.dot) treeDots.push({ x: node.year, y: row });
  return row;
}
layoutTree(datedTree, null);
treeDots.push({ x: tipYears[62], y: 62 });
const collapsedB1 = [{ x: 2015.3, y: 62 }, { x: 2022.9, y: 61.6 }, { x: 2022.9, y: 62.5 }, { x: 2015.3, y: 62 }];

new Chart(newCanvas(1400, 0, 844, 670), {
  type: 'scatter',
  data: {
    datasets: [
      { data: treeDots, pointRadius: 4.4, pointBackgroundColor: '#000', pointBorderWidth: 0 },
      { data: [{ x: 1861, y: 64.27 }, { x: 1890.8, y: 64.27 }], borderColor: '#666', borderWidth: 1, showLine: true, pointRadius: 0 },
      { data: collapsedB1, borderColor: '#555', borderWidth: 0.8, showLine: true, pointRadius: 0 },
      { data: treeV, borderColor: '#777', borderWidth: 1, showLine: true, pointRadius: 0, spanGaps: false },
      { data: treeH, borderColor: '#777', borderWidth: 1, showLine: true, pointRadius: 0, spanGaps: false },
    ],
  },
  options: {
    layout: { padding: { left: 21.5, right: 50 } },
    scales: {
      x: {
        type: 'linear', min: 1728, max: 2050, position: 'bottom',
        grid: { display: false, drawTicks: false },
        border: { display: true, color: '#000', width: 2 },
        afterBuildTicks: s => { s.ticks = timeTicks.map(v => ({ value: v })); },
        afterFit: s => { s.height = 25; },
        ticks: { autoSkip: false, maxRotation: 0, padding: 8, color: '#333', font: { family: 'Liberation Sans', size: 5.5 }, callback: v => String(v) },
      },
      y: { type: 'linear', min: -6.78, max: 65.31, reverse: true, display: false },
    },
  },
  plugins: [{
    id: 'treeText',
    afterDraw(chart) {
      const { ctx, scales: { x, y } } = chart;
      panelLetter(ctx, 'C', 27, 15);
      tipLabels.forEach((label, i) => {
        drawText(ctx, label, x.getPixelForValue(tipYears[i]) + 4, y.getPixelForValue(i), '6.7px ' + SANS, '#333');
      });
      treeNotes.forEach(([label, yr, row]) => {
        drawText(ctx, label, x.getPixelForValue(yr), y.getPixelForValue(row), '13px ' + SERIF, '#111', 'center');
      });
      drawText(ctx, '30.0', x.getPixelForValue(1875.5), y.getPixelForValue(64.9), '3.6px ' + SANS, '#555', 'center');
    },
  }],
});

// ---- Panel D
const dot = (points, color) => ({ data: points.map(([x, y]) => ({ x, y })), pointRadius: 3.7, pointBackgroundColor: color, pointBorderWidth: 0 });
const apobecColors = ['#e8102a', '#1414e0', '#999999', '#000000'];

new Chart(newCanvas(0, 700, 990, 654), {
  type: 'scatter',
  data: {
    datasets: [dot(tcToTt, apobecColors[0]), dot(gaToAa, apobecColors[1]), dot(ggToAg, apobecColors[2]), dot(notApobec, apobecColors[3])],
  },
  options: {
    layout: { padding: { left: 167, right: 78 } },
    scales: {
      x: {
        type: 'linear', min: 1.04, max: 198, position: { y: 0 },
        grid: { display: true, drawOnChartArea: false, drawTicks: true, tickLength: 13, color: '#000', tickColor: '#000' },
        border: { display: true, color: '#000', width: 7 },
        afterBuildTicks: s => { s.ticks = kbTicks.map(v => ({ value: v })); },
        ticks: { autoSkip: false, maxRotation: 0, padding: 1, color: '#222', font: { family: 'Liberation Serif', size: 12.5 }, callback: v => labelledKb.includes(v) ? v + 'Kb' : '' },
      },
      y: { type: 'linear', min: -1.444, max: 5.096, display: false },
    },
  },
  plugins: [{
    id: 'substitutionText',
    afterDraw(chart) {
      const { ctx, scales: { x, y } } = chart;
      panelLetter(ctx, 'D', 0, 30);
      laneTitles.forEach(([label, lane]) => {
        drawText(ctx, label, x.left, y.getPixelForValue(lane), '19.5px ' + SERIF, '#222');
      });
      upperLabels.concat(lowerLabels).forEach(([kb, lane, label]) => {
        drawText(ctx, label, x.getPixelForValue(kb), y.getPixelForValue(lane), '20px ' + SERIF, '#222', 'left', -57);
      });
      apobecLegend.forEach((label, i) => {
        const ly = 580 + i * 20.3;
        ctx.fillStyle = apobecColors[i];
        ctx.beginPath();
        ctx.arc(696, ly, 5, 0, Math.PI * 2);
        ctx.fill();
        drawText(ctx, label, 710, ly, '16.5px ' + SERIF, '#222');
      });
    },
  }],
});

// ---- Panel E
const functionSquares = geneFunctions.map(() => -0.76);

new Chart(newCanvas(990, 700, 1254, 654), {
  data: {
    labels: mutationGenes,
    datasets: [
      { type: 'bar', label: 'Non-synonymous', data: nonSynonymous, backgroundColor: '#0000ff', barThickness: 12, stack: 'counts' },
      { type: 'bar', label: 'Synonymous', data: synonymous, backgroundColor: '#ff0000', barThickness: 12, stack: 'counts' },
      { type: 'line', label: 'Function', data: functionSquares, showLine: false, stack: 'functions', pointStyle: 'rect', pointRadius: 10.3, pointBorderWidth: 0, pointBackgroundColor: geneFunctions.map(f => functionColors[f]) },
    ],
  },
  options: {
    layout: { padding: { top: 82, right: 122 } },
    scales: {
      x: {
        type: 'category', stacked: true,
        grid: { display: false, drawTicks: false },
        border: { display: false },
        afterFit: s => { s.height = 227.8; },
        ticks: { autoSkip: false, minRotation: 90, maxRotation: 90, padding: 31, color: '#222', font: { family: 'DejaVu Sans', size: 19 } },
      },
      y: {
        type: 'linear', stacked: true, min: -1, max: 8,
        grid: { display: false, drawTicks: false },
        border: { display: false },
        afterBuildTicks: s => { s.ticks = s.ticks.filter(t => t.value >= 0); },
        afterFit: s => { s.width = 122.6; },
        ticks: { stepSize: 1, padding: 13, color: '#222', font: { family: 'Liberation Serif', size: 25 } },
      },
    },
  },
  plugins: [{
    id: 'mutationExtras',
    beforeDatasetsDraw(chart) {
      const { ctx, scales: { y } } = chart;
      ctx.fillStyle = '#d6d6d6';
      [1, 2, 3, 4, 5, 6, 7, 8].forEach(v => ctx.fillRect(141, y.getPixelForValue(v) - 1.5, 1011, 3));
      ctx.fillRect(121, y.getPixelForValue(0) - 0.5, 1031, 3);
    },
    afterDraw(chart) {
      const { ctx, scales: { y } } = chart;
      panelLetter(ctx, 'E', 6, 30);
      ctx.save();
      ctx.letterSpacing = '2px';
      drawText(ctx, 'Number of Mutations', 77, y.getPixelForValue(4.63), '22px ' + SERIF, '#222', 'center', -90);
      ctx.restore();
      const top = 45;
      ctx.fillStyle = '#0000ff';
      ctx.fillRect(410, top - 7, 12, 14);
      drawText(ctx, 'Non-synonymous', 425, top, '23.5px ' + SERIF, '#222');
      ctx.fillStyle = '#ff0000';
      ctx.fillRect(686, top - 7, 11, 14);
      drawText(ctx, 'Synonymous', 700, top, '23px ' + SERIF, '#222');
      const spots = [[129, 599], [530, 599], [129, 638], [530, 638]];
      functionLegend.forEach(([label, fn], i) => {
        const [lx, ly] = spots[i];
        ctx.fillStyle = functionColors[fn];
        ctx.fillRect(lx, ly - 8.5, 14, 17);
        drawText(ctx, label, lx + 14, ly, '28px ' + SERIF, '#222');
      });
    },
  }],
});
</script>
</body>
</html>
